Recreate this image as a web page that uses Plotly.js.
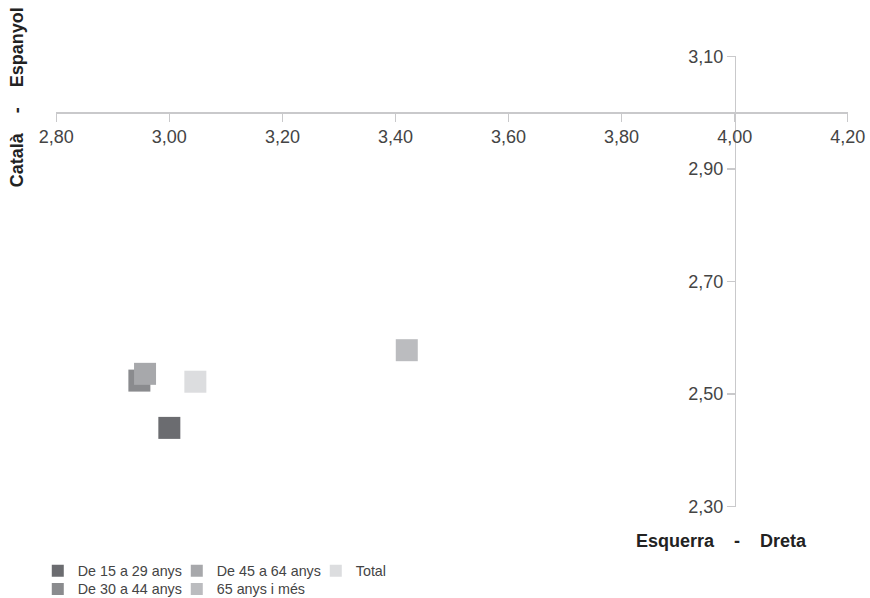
<!DOCTYPE html>
<html>
<head>
<meta charset="utf-8">
<script src="https://cdn.plot.ly/plotly-3.0.1.min.js"></script>
<style>html,body{margin:0;padding:0;background:#fff;}#chart{width:870px;height:598px;}</style>
</head>
<body>
<div id="chart"></div>
<script>
// Data
const seriesNames = ["De 15 a 29 anys", "De 30 a 44 anys", "De 45 a 64 anys", "65 anys i més", "Total"];
const xValues = [3.00, 2.947, 2.957, 3.42, 3.046];   // Esquerra - Dreta
const yValues = [2.44, 2.524, 2.536, 2.578, 2.522];  // Català - Espanyol
const seriesColors = ["#6b6c70", "#8a8b8e", "#a7a8ab", "#bbbcbf", "#dcdddf"];
const legendRow = ["legend", "legend2", "legend", "legend2", "legend"];
const legendRank = [1, 1, 2, 2, 3];
const xTicks = [2.8, 3.0, 3.2, 3.4, 3.6, 3.8, 4.0, 4.2];
const yTicks = [2.3, 2.5, 2.7, 2.9, 3.1];
const xTitle = "Esquerra\u00a0\u00a0\u00a0\u00a0-\u00a0\u00a0\u00a0\u00a0Dreta";
const yTitle = "Català\u00a0\u00a0\u00a0\u00a0-\u00a0\u00a0\u00a0\u00a0Espanyol";

const font = "Liberation Sans, Arial, Helvetica, sans-serif";
const axisColor = "#c9c9cb";

const traces = seriesNames.map((name, i) => ({
  type: "scatter",
  mode: "markers",
  name: name,
  x: [xValues[i]],
  y: [yValues[i]],
  marker: { symbol: "square", size: 22, color: seriesColors[i], line: { width: 0 } },
  legend: legendRow[i],
  legendrank: legendRank[i],
  hoverinfo: "skip"
}));

const legendCommon = {
  orientation: "h",
  xanchor: "left",
  yanchor: "middle",
  x: -0.023,
  font: { family: font, size: 14.3, color: "#444" },
  itemsizing: "constant",
  entrywidth: 94,
  entrywidthmode: "pixels",
  bgcolor: "rgba(0,0,0,0)",
  borderwidth: 0,
  tracegroupgap: 0,
  traceorder: "normal"
};

const layout = {
  width: 870,
  height: 598,
  margin: { l: 56, r: 22, t: 56, b: 91, autoexpand: false },
  paper_bgcolor: "#ffffff",
  plot_bgcolor: "#ffffff",
  separators: ",.",
  showlegend: true,
  font: { family: font, size: 18, color: "#444" },
  xaxis: {
    range: [2.7995, 4.2005],
    anchor: "free",
    position: (3.0 - 2.3) / 0.8,
    tickmode: "array",
    tickvals: xTicks,
    tickformat: ".2f",
    showgrid: false,
    zeroline: false,
    showline: true,
    linecolor: axisColor,
    linewidth: 1.5,
    ticks: "outside",
    ticklen: 8,
    tickwidth: 1.5,
    tickcolor: axisColor,
    tickfont: { family: font, size: 18, color: "#444" },
    automargin: false,
    fixedrange: true
  },
  yaxis: {
    range: [2.2995, 3.1005],
    anchor: "free",
    position: (4.0 - 2.8) / 1.4,
    tickmode: "array",
    tickvals: yTicks,
    tickformat: ".2f",
    showgrid: false,
    zeroline: false,
    showline: true,
    linecolor: axisColor,
    linewidth: 1.5,
    ticks: "outside",
    ticklen: 8,
    tickwidth: 1.5,
    tickcolor: axisColor,
    tickfont: { family: font, size: 18, color: "#444" },
    automargin: false,
    fixedrange: true
  },
  legend: Object.assign({}, legendCommon, { y: -0.142 }),
  legend2: Object.assign({}, legendCommon, { y: -0.182 }),
  annotations: [
    {
      text: "<b>" + xTitle + "</b>",
      xref: "paper", yref: "paper",
      x: 0.84, y: -0.0754,
      xanchor: "center", yanchor: "middle",
      showarrow: false,
      font: { family: font, size: 18, color: "#222" }
    },
    {
      text: "<b>" + yTitle + "</b>",
      xref: "paper", yref: "paper",
      x: -0.049, y: 0.909,
      xanchor: "center", yanchor: "middle",
      textangle: -90,
      showarrow: false,
      font: { family: font, size: 18, color: "#222" }
    }
  ]
};

Plotly.newPlot("chart", traces, layout, { displayModeBar: false, staticPlot: true });
</script>
</body>
</html>
